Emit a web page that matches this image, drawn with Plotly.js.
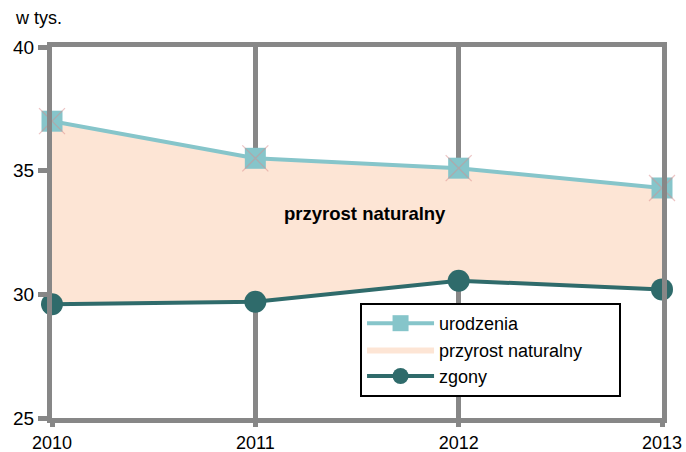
<!DOCTYPE html>
<html>
<head>
<meta charset="utf-8">
<script src="https://cdn.plot.ly/plotly-3.0.1.min.js"></script>
<style>html,body{margin:0;padding:0;background:#fff;}#chart{width:686px;height:452px;}</style>
</head>
<body>
<div id="chart"></div>
<script>
var years = [2010, 2011, 2012, 2013];
var urodzenia = [37.0, 35.5, 35.1, 34.3];
var zgony = [29.6, 29.7, 30.55, 30.2];
var yTicks = [25, 30, 35, 40];
var unitLabel = 'w tys.';
var fillLabel = 'przyrost naturalny';

var gray = '#878787';
var teal = '#86C5CA';
var dark = '#2F6B6B';
var peach = '#FDE5D5';

var traces = [
  {x: years, y: zgony, mode: 'lines', line: {width: 0, color: dark}, showlegend: false, hoverinfo: 'skip'},
  {x: years, y: urodzenia, mode: 'lines', fill: 'tonexty', fillcolor: peach, line: {width: 0, color: '#FBD3B5'},
   name: fillLabel + '\u2003\u2002\u2005', legendrank: 2},
  {x: years, y: urodzenia, mode: 'lines+markers', name: 'urodzenia', legendrank: 1,
   line: {color: teal, width: 4}, marker: {symbol: 'square', size: 21, color: teal}, cliponaxis: false},
  {x: years, y: urodzenia, mode: 'markers', showlegend: false, hoverinfo: 'skip',
   marker: {symbol: 'x-thin-open', size: 26, color: 'rgba(220,140,140,0.5)', line: {width: 1.2, color: 'rgba(220,140,140,0.5)'}}, cliponaxis: false},
  {x: years, y: zgony, mode: 'lines+markers', name: 'zgony', legendrank: 3,
   line: {color: dark, width: 4}, marker: {symbol: 'circle', size: 22, color: dark}, cliponaxis: false}
];

var layout = {
  width: 686, height: 452,
  margin: {l: 52, r: 24, t: 47, b: 34},
  paper_bgcolor: '#fff', plot_bgcolor: '#fff',
  font: {family: 'Arial, Liberation Sans, sans-serif', size: 19, color: '#000'},
  showlegend: true,
  legend: {x: 0.505, y: 0.31, xanchor: 'left', yanchor: 'top', bgcolor: '#fff', bordercolor: '#000', borderwidth: 2,
           font: {size: 18}, itemwidth: 67, traceorder: 'normal'},
  xaxis: {range: [2010, 2013], tickvals: years, ticktext: years.map(String), tickfont: {size: 18},
          showgrid: true, gridcolor: gray, gridwidth: 5, zeroline: false,
          showline: true, linecolor: gray, linewidth: 5, mirror: true,
          ticks: 'outside', ticklen: 4, tickwidth: 5, tickcolor: gray, ticklabelstandoff: 0, fixedrange: true},
  yaxis: {range: [25, 40], tickvals: yTicks, showgrid: false, zeroline: false,
          showline: true, linecolor: gray, linewidth: 5, mirror: true,
          ticks: 'outside', ticklen: 9, tickwidth: 5, tickcolor: gray, fixedrange: true},
  annotations: [
    {xref: 'paper', yref: 'paper', x: -0.064, y: 1.045, xanchor: 'left', yanchor: 'bottom', text: unitLabel, showarrow: false, font: {size: 18}},
    {xref: 'x', yref: 'y', x: 2011.54, y: 33.25, text: '<b>' + fillLabel + '</b>', showarrow: false, font: {size: 18.5}}
  ]
};

Plotly.newPlot('chart', traces, layout, {displayModeBar: false, staticPlot: true});
</script>
</body>
</html>
